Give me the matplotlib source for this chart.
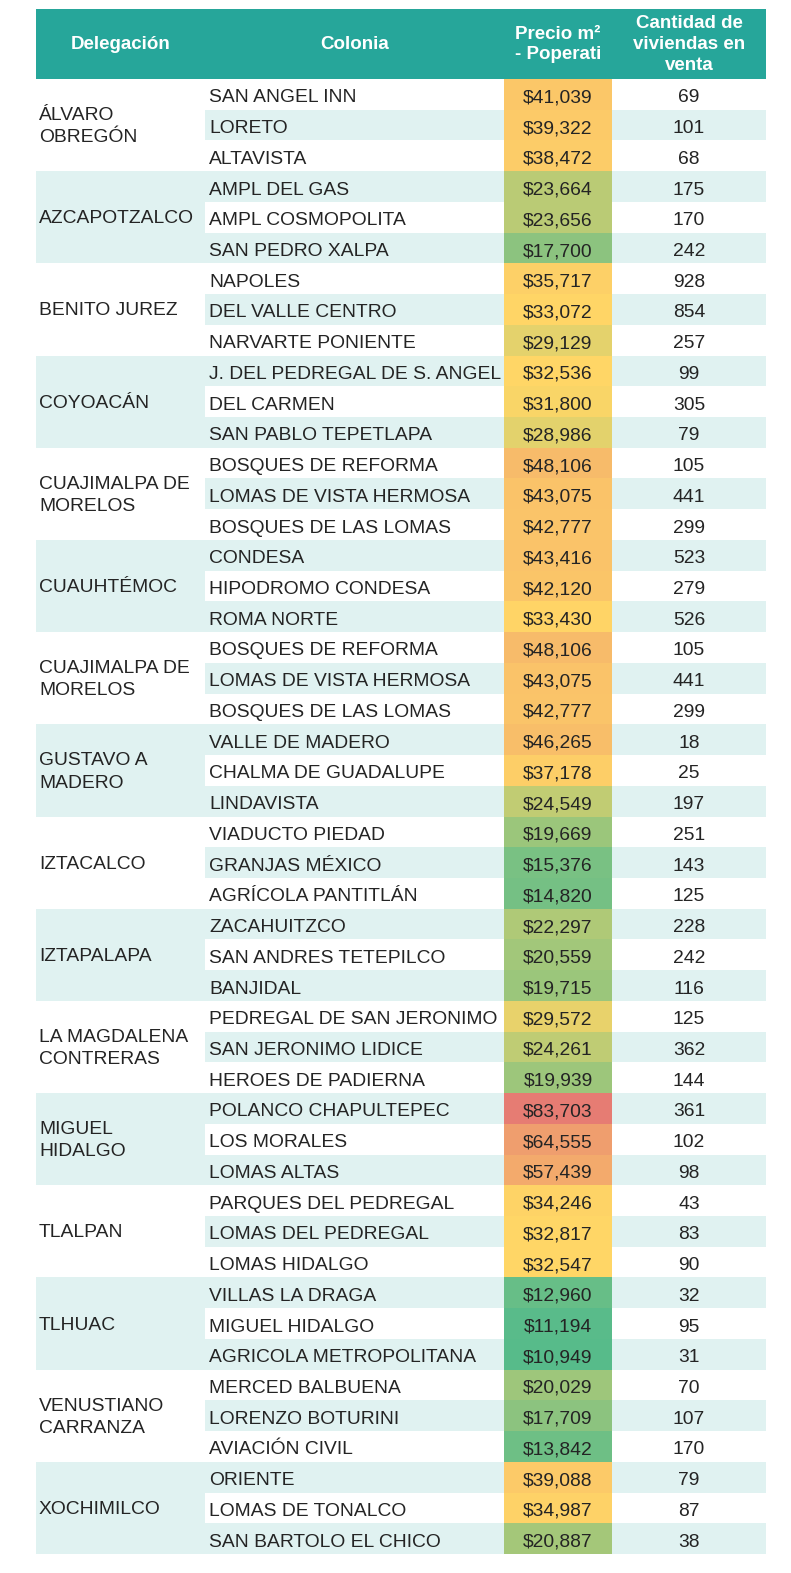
import matplotlib.pyplot as plt
import matplotlib.colors as mcolors
import numpy as np

# Data
delegaciones = ["ÁLVARO\nOBREGÓN", "AZCAPOTZALCO", "BENITO JUREZ", "COYOACÁN",
                "CUAJIMALPA DE\nMORELOS", "CUAUHTÉMOC", "CUAJIMALPA DE\nMORELOS",
                "GUSTAVO A\nMADERO", "IZTACALCO", "IZTAPALAPA", "LA MAGDALENA\nCONTRERAS",
                "MIGUEL\nHIDALGO", "TLALPAN", "TLHUAC", "VENUSTIANO\nCARRANZA", "XOCHIMILCO"]

colonias = ["SAN ANGEL INN", "LORETO", "ALTAVISTA",
            "AMPL DEL GAS", "AMPL COSMOPOLITA", "SAN PEDRO XALPA",
            "NAPOLES", "DEL VALLE CENTRO", "NARVARTE PONIENTE",
            "J. DEL PEDREGAL DE S. ANGEL", "DEL CARMEN", "SAN PABLO TEPETLAPA",
            "BOSQUES DE REFORMA", "LOMAS DE VISTA HERMOSA", "BOSQUES DE LAS LOMAS",
            "CONDESA", "HIPODROMO CONDESA", "ROMA NORTE",
            "BOSQUES DE REFORMA", "LOMAS DE VISTA HERMOSA", "BOSQUES DE LAS LOMAS",
            "VALLE DE MADERO", "CHALMA DE GUADALUPE", "LINDAVISTA",
            "VIADUCTO PIEDAD", "GRANJAS MÉXICO", "AGRÍCOLA PANTITLÁN",
            "ZACAHUITZCO", "SAN ANDRES TETEPILCO", "BANJIDAL",
            "PEDREGAL DE SAN JERONIMO", "SAN JERONIMO LIDICE", "HEROES DE PADIERNA",
            "POLANCO CHAPULTEPEC", "LOS MORALES", "LOMAS ALTAS",
            "PARQUES DEL PEDREGAL", "LOMAS DEL PEDREGAL", "LOMAS HIDALGO",
            "VILLAS LA DRAGA", "MIGUEL HIDALGO", "AGRICOLA METROPOLITANA",
            "MERCED BALBUENA", "LORENZO BOTURINI", "AVIACIÓN CIVIL",
            "ORIENTE", "LOMAS DE TONALCO", "SAN BARTOLO EL CHICO"]

precios = [41039, 39322, 38472, 23664, 23656, 17700, 35717, 33072, 29129,
           32536, 31800, 28986, 48106, 43075, 42777, 43416, 42120, 33430,
           48106, 43075, 42777, 46265, 37178, 24549, 19669, 15376, 14820,
           22297, 20559, 19715, 29572, 24261, 19939, 83703, 64555, 57439,
           34246, 32817, 32547, 12960, 11194, 10949, 20029, 17709, 13842,
           39088, 34987, 20887]

viviendas = [69, 101, 68, 175, 170, 242, 928, 854, 257, 99, 305, 79,
             105, 441, 299, 523, 279, 526, 105, 441, 299, 18, 25, 197,
             251, 143, 125, 228, 242, 116, 125, 362, 144, 361, 102, 98,
             43, 83, 90, 32, 95, 31, 70, 107, 170, 79, 87, 38]

headers = ["Delegación", "Colonia", "Precio m²\n- Poperati", "Cantidad de\nviviendas en\nventa"]

# Layout (pixels)
W, H = 791, 1573
col_edges = [36, 205, 504, 612, 766]
header_top, header_bot = 9, 79
table_bot = 1554
n_rows = len(colonias)
row_h = (table_bot - header_bot) / n_rows

TEAL = "#26a69a"
LIGHT = "#e0f2f1"
TXT = "#242424"
FONT = ["Liberation Sans", "DejaVu Sans"]
FS = 13.9

# Google Sheets style colour scale: min green, median yellow, max red
GREEN = np.array(mcolors.to_rgb("#57bb8a"))
YELLOW = np.array(mcolors.to_rgb("#ffd666"))
RED = np.array(mcolors.to_rgb("#e67c73"))
vmin, vmid, vmax = min(precios), np.percentile(precios, 50), max(precios)


def price_color(v):
    if v <= vmid:
        t = (v - vmin) / (vmid - vmin)
        return GREEN + (YELLOW - GREEN) * t
    t = (v - vmid) / (vmax - vmid)
    return YELLOW + (RED - YELLOW) * t


fig = plt.figure(figsize=(W / 100, H / 100), dpi=100)
ax = fig.add_axes([0, 0, 1, 1])
ax.set_xlim(0, W)
ax.set_ylim(H, 0)
ax.axis("off")

# Header
ax.add_patch(plt.Rectangle((col_edges[0], header_top), col_edges[-1] - col_edges[0],
                           header_bot - header_top, color=TEAL, lw=0))
for i, h in enumerate(headers):
    cx = (col_edges[i] + col_edges[i + 1]) / 2
    ax.text(cx, (header_top + header_bot) / 2 + 0.5, h, ha="center", va="center",
            color="white", fontsize=13.5, fontweight="bold", family=FONT,
            linespacing=1.28)

# Rows
for r in range(n_rows):
    y0 = header_bot + r * row_h
    yc = y0 + row_h / 2 + 3.5
    bg = LIGHT if r % 2 == 1 else "white"
    ax.add_patch(plt.Rectangle((col_edges[1], y0), col_edges[-1] - col_edges[1],
                               row_h, color=bg, lw=0))
    ax.add_patch(plt.Rectangle((col_edges[2], y0), col_edges[3] - col_edges[2],
                               row_h, color=price_color(precios[r]), lw=0))
    ax.text(col_edges[1] + 4, yc, colonias[r], ha="left", va="center",
            color=TXT, fontsize=FS, family=FONT)
    ax.text((col_edges[2] + col_edges[3]) / 2, yc, f"${precios[r]:,}", ha="center",
            va="center", color=TXT, fontsize=FS, family=FONT)
    ax.text((col_edges[3] + col_edges[4]) / 2, yc, str(viviendas[r]), ha="center",
            va="center", color=TXT, fontsize=FS, family=FONT)

# Delegación groups (3 rows each)
for g, name in enumerate(delegaciones):
    y0 = header_bot + g * 3 * row_h
    bg = LIGHT if g % 2 == 1 else "white"
    ax.add_patch(plt.Rectangle((col_edges[0], y0), col_edges[1] - col_edges[0],
                               3 * row_h, color=bg, lw=0))
    ax.text(col_edges[0] + 3, y0 + 1.5 * row_h + 1.5, name, ha="left", va="center",
            color=TXT, fontsize=FS, family=FONT, linespacing=1.4)

fig.savefig("out.png", dpi=100)
